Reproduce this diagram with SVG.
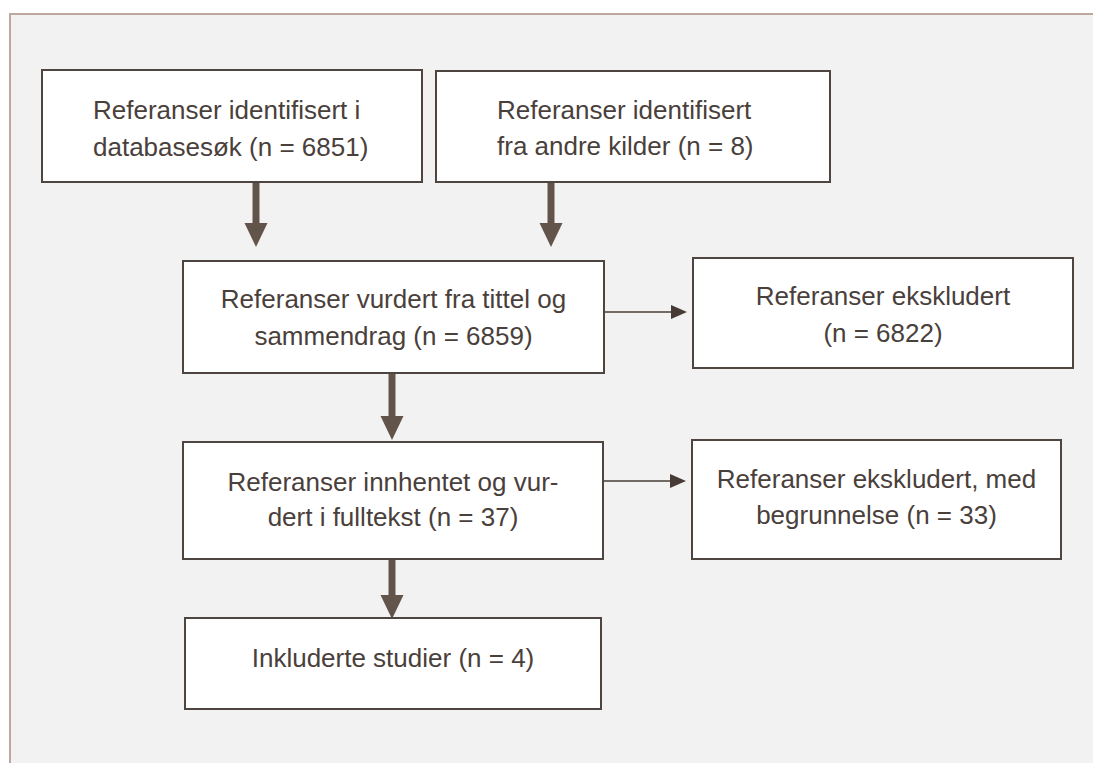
<svg xmlns="http://www.w3.org/2000/svg" width="1093" height="763" viewBox="0 0 1093 763">
<style>
.box{fill:#ffffff;stroke:#4f4540;stroke-width:2}
.t{font-family:"Liberation Sans",Arial,sans-serif;font-size:26px;fill:#4a403b}
.c{text-anchor:middle}
.thick{stroke:#63544b;stroke-width:7;fill:none}
.thin{stroke:#463b35;stroke-width:1.6;fill:none}
</style>
<defs>
<marker id="hk" markerUnits="userSpaceOnUse" markerWidth="24" markerHeight="24" refX="0" refY="11.5" orient="auto" overflow="visible">
<path d="M0,0 L24,11.5 L0,23 Z" fill="#63544b"/>
</marker>
<marker id="hn" markerUnits="userSpaceOnUse" markerWidth="16" markerHeight="14" refX="0" refY="7" orient="auto" overflow="visible">
<path d="M0,0 L16,7 L0,14 Z" fill="#463b35"/>
</marker>
</defs>
<rect x="0" y="0" width="1093" height="763" fill="#ffffff"/>
<rect x="10" y="14" width="1100" height="770" fill="#f2f2f2" stroke="#bca89f" stroke-width="2"/>
<g id="connectors">
<line class="thick" x1="256" y1="182" x2="256" y2="223" marker-end="url(#hk)"/>
<line class="thick" x1="551" y1="183" x2="551" y2="223" marker-end="url(#hk)"/>
<line class="thick" x1="392" y1="373" x2="392" y2="416" marker-end="url(#hk)"/>
<line class="thick" x1="392" y1="559" x2="392" y2="595" marker-end="url(#hk)"/>
<line class="thin" x1="604" y1="312" x2="671" y2="312" marker-end="url(#hn)"/>
<line class="thin" x1="604" y1="481" x2="670" y2="481" marker-end="url(#hn)"/>
</g>
<g id="n1">
<rect class="box" x="42" y="70" width="380" height="112"/>
<text class="t" x="93" y="119">Referanser identifisert i</text>
<text class="t" x="93" y="156">databasesøk (n = 6851)</text>
</g>
<g id="n2">
<rect class="box" x="436" y="71" width="394" height="111"/>
<text class="t" x="497" y="119">Referanser identifisert</text>
<text class="t" x="497" y="155">fra andre kilder (n = 8)</text>
</g>
<g id="n3">
<rect class="box" x="183" y="261" width="421" height="112"/>
<text class="t c" x="393.5" y="308">Referanser vurdert fra tittel og</text>
<text class="t c" x="393.5" y="345">sammendrag (n = 6859)</text>
</g>
<g id="n4">
<rect class="box" x="693" y="258" width="380" height="110"/>
<text class="t c" x="883" y="305">Referanser ekskludert</text>
<text class="t c" x="883" y="342">(n = 6822)</text>
</g>
<g id="n5">
<rect class="box" x="183" y="442" width="420" height="117"/>
<text class="t c" x="393" y="491">Referanser innhentet og vur-</text>
<text class="t c" x="393" y="526">dert i fulltekst (n = 37)</text>
</g>
<g id="n6">
<rect class="box" x="185" y="618" width="416" height="91"/>
<text class="t c" x="393" y="667">Inkluderte studier (n = 4)</text>
</g>
<g id="n7">
<rect class="box" x="692" y="440" width="369" height="119"/>
<text class="t c" x="876.5" y="488">Referanser ekskludert, med</text>
<text class="t c" x="876.5" y="524">begrunnelse (n = 33)</text>
</g>
</svg>
